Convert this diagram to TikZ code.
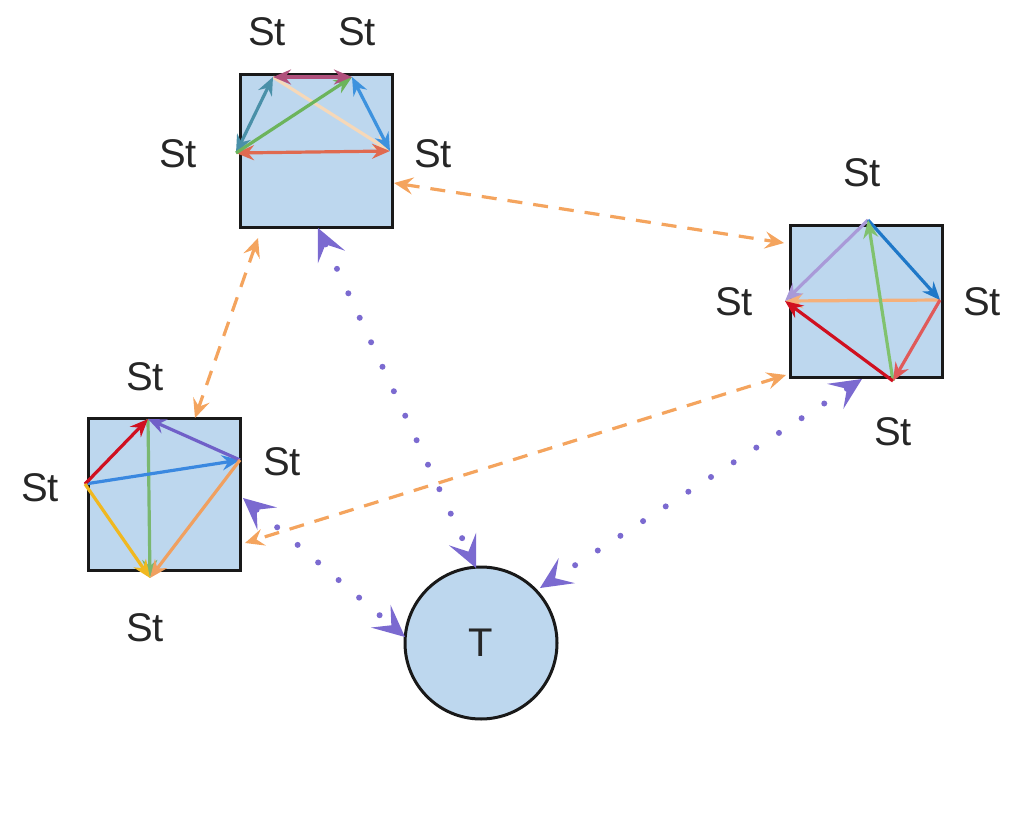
\documentclass[tikz,border=0pt]{standalone}
\usepackage{fontspec}
\setmainfont{Liberation Sans}
\usetikzlibrary{arrows.meta}
\definecolor{boxfill}{HTML}{BDD7EE}
\definecolor{linkorange}{HTML}{F4A45E}
\definecolor{linkpurple}{HTML}{7B6AD0}
\definecolor{cPink}{HTML}{B0507C}
\definecolor{cTeal}{HTML}{4A90A8}
\definecolor{cGreen}{HTML}{6CB45C}
\definecolor{cBlueA}{HTML}{3D92DE}
\definecolor{cPeach}{HTML}{F6D8B8}
\definecolor{cSalmon}{HTML}{E06A50}
\definecolor{cLav}{HTML}{A99AD8}
\definecolor{cBlueB}{HTML}{1F78C8}
\definecolor{cGreenB}{HTML}{80C26E}
\definecolor{cOrangeB}{HTML}{F5B07A}
\definecolor{cRed}{HTML}{D01020}
\definecolor{cSalmonB}{HTML}{E05A5A}
\definecolor{cPurple}{HTML}{7060C8}
\definecolor{cBlueC}{HTML}{3A88E0}
\definecolor{cGreenC}{HTML}{7AB870}
\definecolor{cYellow}{HTML}{F0B820}
\definecolor{cOrangeC}{HTML}{F0A060}
\tikzset{
  sq/.style={draw=black!90, line width=3pt, fill=boxfill, minimum size=152pt, inner sep=0pt},
  tnode/.style={draw=black!90, line width=3pt, fill=boxfill, circle, minimum size=152pt, inner sep=0pt, font=\fontsize{40}{44}\selectfont, text=black!85},
  lbl/.style={font=\fontsize{40}{44}\selectfont, inner sep=0pt, text=black!85},
  inarr/.style={line width=3.2pt, -{Stealth[length=18pt,width=15pt,inset=6pt]}},
  inarrb/.style={line width=3.2pt, {Stealth[length=18pt,width=15pt,inset=6pt]}-{Stealth[length=18pt,width=15pt,inset=6pt]}},
  olink/.style={linkorange, line width=3.2pt, dash pattern=on 15pt off 11pt,
    {Stealth[length=19pt,width=17pt,inset=7pt]}-{Stealth[length=19pt,width=17pt,inset=7pt]}},
  plink/.style={linkpurple, line width=6pt, line cap=round, dash pattern=on 0pt off 27pt,
    {Stealth[length=32pt,width=30pt,inset=14pt,line width=0pt]}-{Stealth[length=32pt,width=30pt,inset=14pt,line width=0pt]}}
}
\begin{document}
\begin{tikzpicture}[x=1pt,y=-1pt]
\useasboundingbox (0,0) rectangle (1023,840);
% squares
\node[sq] (S1) at (316.5,151) {};
\node[sq] (S2) at (866,301) {};
\node[sq] (S3) at (164.5,494) {};
\node[tnode] (T) at (481,643) {T};
% points of square 1
\coordinate (A) at (273,77);
\coordinate (B) at (352,77);
\coordinate (C) at (236,153);
\coordinate (D) at (390,151);
% points of square 2
\coordinate (E) at (868,220);
\coordinate (F) at (785,301);
\coordinate (G) at (940,300);
\coordinate (H) at (893,381);
% points of square 3
\coordinate (I) at (148,419);
\coordinate (J) at (85,484);
\coordinate (K) at (240,460);
\coordinate (L) at (150,578);
% labels
\node[lbl] (l1) at (267,32) {St};
\node[lbl] (l2) at (357,32) {St};
\node[lbl] (l3) at (178,154) {St};
\node[lbl] (l4) at (433,154) {St};
\node[lbl] (l5) at (862,173) {St};
\node[lbl] (l6) at (734,302) {St};
\node[lbl] (l7) at (982,302) {St};
\node[lbl] (l8) at (893,432) {St};
\node[lbl] (l9) at (145,377) {St};
\node[lbl] (l10) at (40,488) {St};
\node[lbl] (l11) at (282,462) {St};
\node[lbl] (l12) at (145,628) {St};
% inner arrows square 1
\draw[inarr, cPeach] (A) -- (D);
\draw[inarrb, cSalmon] (C) -- (D);
\draw[inarrb, cTeal] (C) -- (A);
\draw[inarr, cGreen] (C) -- (B);
\draw[inarrb, cBlueA] (D) -- (B);
\draw[inarrb, cPink] (A) -- (B);
% inner arrows square 2
\draw[inarr, cOrangeB] (G) -- (F);
\draw[inarr, cLav] (E) -- (F);
\draw[inarr, cBlueB] (E) -- (G);
\draw[inarr, cGreenB] (H) -- (E);
\draw[inarr, cRed] (H) -- (F);
\draw[inarr, cSalmonB] (G) -- (H);
% inner arrows square 3
\draw[inarr, cGreenC] (I) -- (L);
\draw[inarr, cBlueC] (J) -- (K);
\draw[inarr, cRed] (J) -- (I);
\draw[inarr, cPurple] (K) -- (I);
\draw[inarr, cYellow] (J) -- (L);
\draw[inarr, cOrangeC] (K) -- (L);
% link endpoints
\coordinate (o1a) at (394,183);
\coordinate (o1b) at (784,243);
\coordinate (o2a) at (258,238);
\coordinate (o2b) at (195,418);
\coordinate (o3a) at (786,375);
\coordinate (o3b) at (245,543);
\coordinate (p1a) at (318,228);
\coordinate (p1b) at (476,568);
\coordinate (p2a) at (862,379);
\coordinate (p2b) at (540,588);
\coordinate (p3a) at (243,498);
\coordinate (p3b) at (405,637);
% orange dashed links
\draw[olink] (o1a) -- (o1b);
\draw[olink] (o2a) -- (o2b);
\draw[olink] (o3a) -- (o3b);
% purple dotted links
\draw[plink] (p1a) -- (p1b);
\draw[plink] (p2a) -- (p2b);
\draw[plink] (p3a) -- (p3b);
\end{tikzpicture}
\end{document}
